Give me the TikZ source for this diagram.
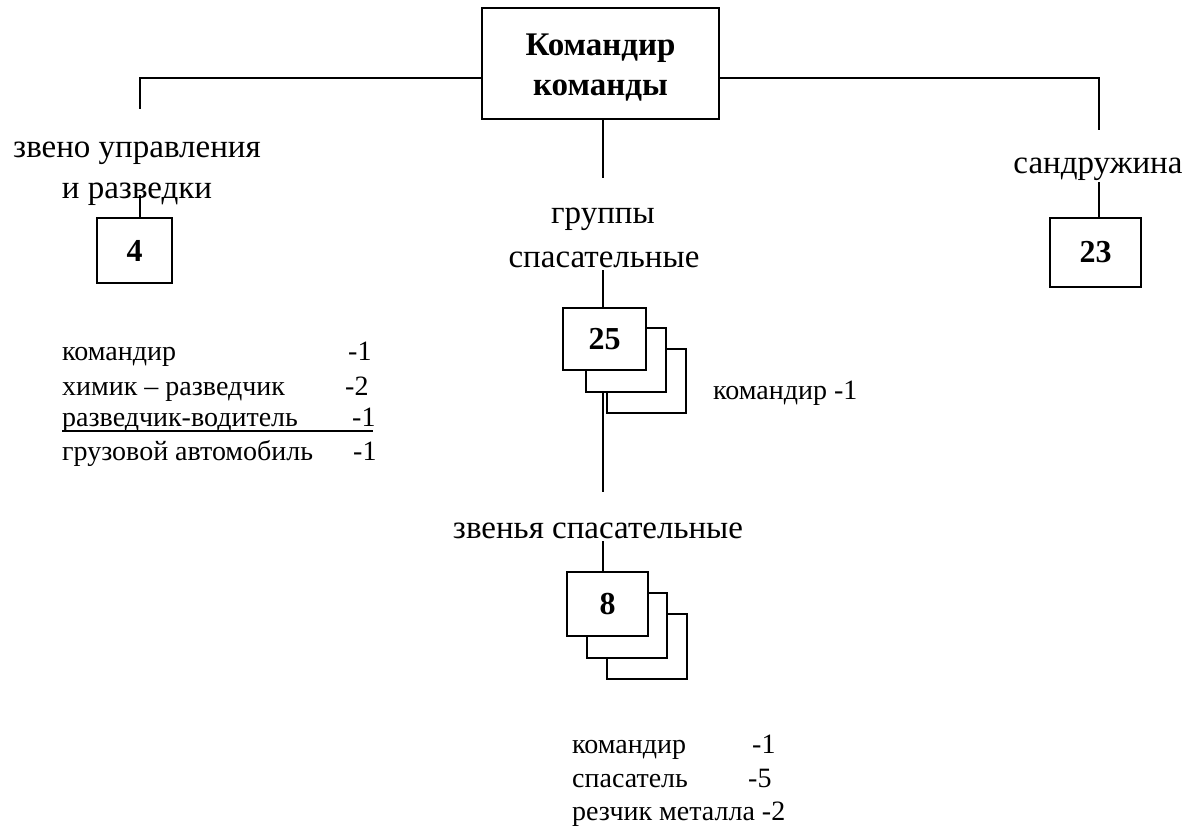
\documentclass[tikz,border=0pt]{standalone}
\usepackage{fontspec}
\setmainfont{Liberation Serif}
\begin{document}
\begin{tikzpicture}[x=1pt,y=-1pt,
  conn/.style={line width=2pt},
  bx/.style={draw, line width=2.6pt, fill=white, inner sep=0pt, font=\fontsize{32}{38}\selectfont\bfseries},
  lbl/.style={inner sep=0pt, anchor=base, font=\fontsize{33}{40}\selectfont},
  lst/.style={inner sep=0pt, anchor=base west, font=\fontsize{28}{34}\selectfont}]
\useasboundingbox (0,0) rectangle (1189,830);

% top box
\node[bx, align=center, minimum width=237pt, minimum height=111pt,
      font=\fontsize{33}{40}\selectfont\bfseries] (top) at (600.5,63.5)
      {\rule{0pt}{30pt}Командир\\команды};

\coordinate (hl) at (0,78);
\coordinate (lt) at (140,109);
\coordinate (rt) at (1099,130);
\draw[conn] (top.west |- hl) -| (lt);
\draw[conn] (top.east |- hl) -| (rt);

% left branch
\node[lbl] (zv1) at (137,157) {звено управления};
\node[lbl] (zv2) at (137,198) {и разведки};
\coordinate (zvc) at (140,195);
\node[bx, minimum width=75pt, minimum height=65pt] (b4) at (134.5,250.5) {4};
\draw[conn] (zvc) -- (zvc |- b4.north);

\node[lst] (l1) at (62,360) {командир};
\node[lst] (l1n) at (348,360) {-1};
\node[lst] (l2) at (62,395) {химик – разведчик};
\node[lst] (l2n) at (345,395) {-2};
\node[lst] (l3) at (62,426) {разведчик-водитель};
\node[lst] (l3n) at (352,426) {-1};
\coordinate (ul) at (373,431);
\draw[line width=1.5pt] (l3.base west |- ul) -- (ul);
\node[lst] (l4) at (62,460) {грузовой автомобиль};
\node[lst] (l4n) at (353,460) {-1};

% right branch
\node[lbl] (sd) at (1098,173) {сандружина};
\coordinate (sdc) at (1099,182);
\node[bx, minimum width=91pt, minimum height=69pt] (b23) at (1095.5,252.5) {23};
\draw[conn] (sdc) -- (sdc |- b23.north);

% centre branch
\coordinate (gc) at (603,178);
\draw[conn] (top.south -| gc) -- (gc);
\node[lbl] (gr1) at (603,223) {группы};
\node[lbl] (gr2) at (604,267) {спасательные};
\coordinate (grc) at (603,270);

\node[bx, minimum width=79pt, minimum height=64pt] (g25c) at (646.5,381) {};
\node[bx, minimum width=80pt, minimum height=64pt] (g25b) at (626,360) {};
\node[bx, minimum width=83pt, minimum height=62pt] (g25a) at (604.5,339) {25};
\draw[conn] (grc) -- (grc |- g25a.north);
\node[lst] (k25) at (713,399) {командир -1};

\coordinate (zvtop) at (603,492);
\draw[conn] (g25b.south -| zvtop) -- (zvtop);
\node[lbl] (zs) at (598,538) {звенья спасательные};
\coordinate (zsc) at (603,541);

\node[bx, minimum width=80pt, minimum height=65pt] (g8c) at (647,646.5) {};
\node[bx, minimum width=80pt, minimum height=65pt] (g8b) at (627,625.5) {};
\node[bx, minimum width=81pt, minimum height=64pt] (g8a) at (607.5,604) {8};
\draw[conn] (zsc) -- (zsc |- g8a.north);

\node[lst] (m1) at (572,753) {командир};
\node[lst] (m1n) at (752,753) {-1};
\node[lst] (m2) at (572,787) {спасатель};
\node[lst] (m2n) at (748,787) {-5};
\node[lst] (m3) at (572,820) {резчик металла -2};
\end{tikzpicture}
\end{document}
